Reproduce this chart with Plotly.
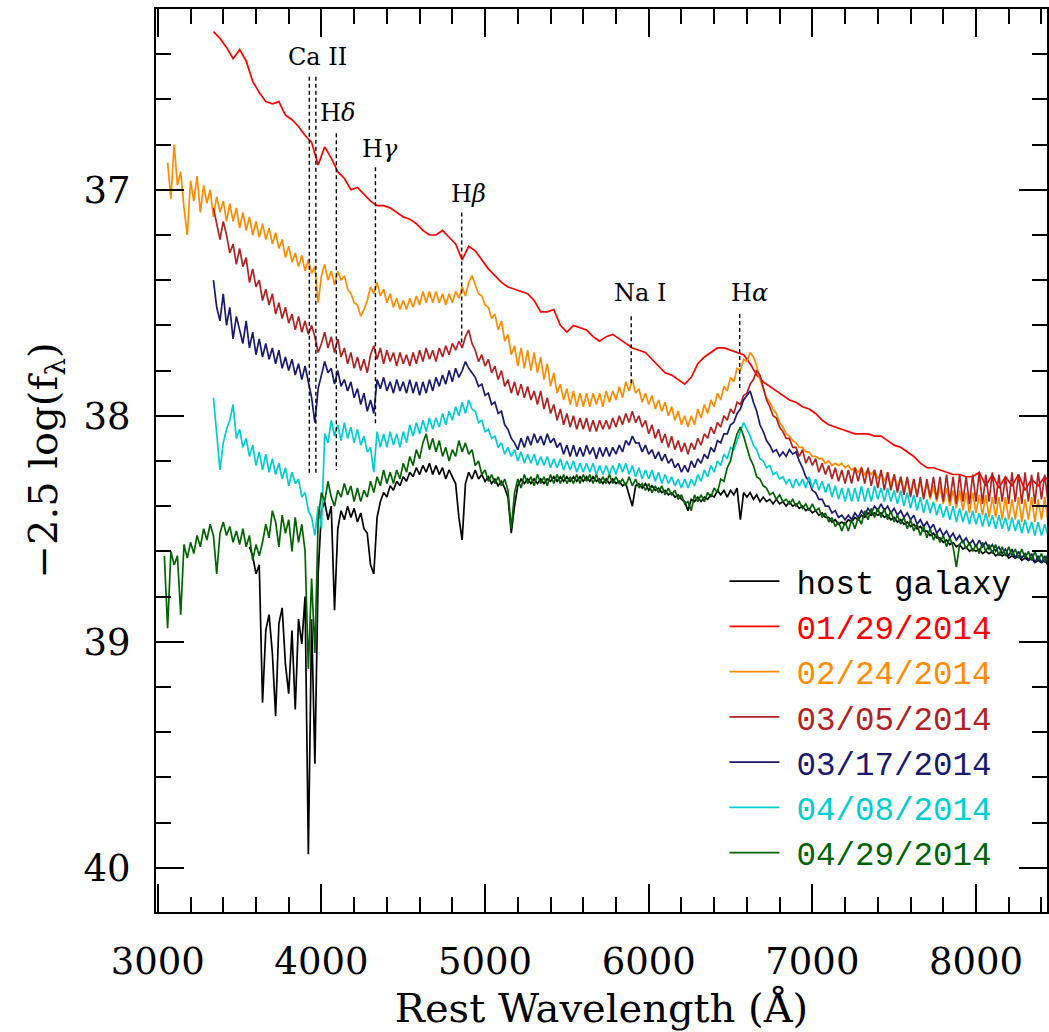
import numpy as np
import plotly.graph_objects as go

# ---------------- spectra: -2.5 log(f_lambda), digitised ----------------
# 01/29 epoch sampled every 40 A, the others every 20 A
host_start, host_step = 3560, 20
host_mag = [
    38.58, 38.62, 38.70, 38.66, 39.27, 38.95, 38.88, 39.05, 39.33, 38.92, 38.85, 39.10, 39.23, 38.95, 39.30, 38.90, 39.01, 38.80, 39.94, 38.90,
    39.54, 38.70, 38.42, 38.38, 38.46, 38.40, 38.86, 38.50, 38.42, 38.46, 38.40, 38.45, 38.41, 38.47, 38.43, 38.50, 38.52, 38.66, 38.70, 38.45,
    38.38, 38.34, 38.36, 38.31, 38.33, 38.29, 38.31, 38.27, 38.29, 38.25, 38.27, 38.23, 38.26, 38.22, 38.25, 38.21, 38.26, 38.22, 38.26, 38.23,
    38.28, 38.24, 38.27, 38.30, 38.45, 38.55, 38.30, 38.25, 38.28, 38.24, 38.28, 38.26, 38.29, 38.27, 38.30, 38.28, 38.31, 38.29, 38.32, 38.36,
    38.52, 38.40, 38.31, 38.28, 38.30, 38.28, 38.30, 38.28, 38.30, 38.28, 38.30, 38.28, 38.29, 38.27, 38.29, 38.27, 38.29, 38.27, 38.29, 38.27,
    38.29, 38.27, 38.29, 38.27, 38.29, 38.27, 38.29, 38.28, 38.30, 38.28, 38.30, 38.28, 38.30, 38.29, 38.31, 38.30, 38.35, 38.40, 38.31, 38.30,
    38.32, 38.30, 38.33, 38.31, 38.33, 38.32, 38.34, 38.33, 38.35, 38.34, 38.36, 38.35, 38.37, 38.38, 38.42, 38.37, 38.38, 38.36, 38.38, 38.36,
    38.37, 38.35, 38.36, 38.33, 38.35, 38.33, 38.36, 38.33, 38.35, 38.32, 38.46, 38.34, 38.36, 38.34, 38.37, 38.35, 38.38, 38.36, 38.38, 38.37,
    38.39, 38.37, 38.39, 38.38, 38.40, 38.38, 38.40, 38.39, 38.41, 38.40, 38.42, 38.41, 38.43, 38.42, 38.44, 38.43, 38.45, 38.45, 38.47, 38.46,
    38.48, 38.47, 38.48, 38.46, 38.47, 38.45, 38.46, 38.44, 38.45, 38.43, 38.44, 38.43, 38.44, 38.43, 38.45, 38.44, 38.46, 38.45, 38.47, 38.46,
    38.48, 38.47, 38.49, 38.48, 38.50, 38.49, 38.51, 38.51, 38.53, 38.52, 38.54, 38.54, 38.56, 38.55, 38.57, 38.56, 38.58, 38.57, 38.59, 38.58,
    38.60, 38.59, 38.60, 38.59, 38.61, 38.60, 38.61, 38.60, 38.62, 38.61, 38.62, 38.61, 38.63, 38.62, 38.63, 38.62, 38.64, 38.63, 38.64, 38.63,
    38.65, 38.64, 38.65, 38.64, 38.66, 38.65, 38.66,
]

red_start, red_step = 3340, 40
red_mag = [
    36.30, 36.33, 36.37, 36.42, 36.38, 36.43, 36.52, 36.57, 36.61, 36.62,
    36.61, 36.67, 36.69, 36.72, 36.76, 36.79, 36.89, 36.81, 36.86, 36.92,
    36.95, 37.00, 36.99, 37.02, 37.05, 37.07, 37.07, 37.08, 37.10, 37.12,
    37.13, 37.15, 37.18, 37.20, 37.20, 37.18, 37.21, 37.24, 37.31, 37.25,
    37.27, 37.31, 37.35, 37.38, 37.41, 37.43, 37.44, 37.45, 37.46, 37.49,
    37.54, 37.54, 37.53, 37.60, 37.63, 37.60, 37.61, 37.62, 37.65, 37.67,
    37.65, 37.64, 37.66, 37.68, 37.70, 37.71, 37.72, 37.75, 37.78, 37.81,
    37.82, 37.84, 37.86, 37.83, 37.77, 37.74, 37.72, 37.70, 37.70, 37.71,
    37.72, 37.73, 37.77, 37.82, 37.85, 37.87, 37.89, 37.91, 37.93, 37.94,
    37.96, 37.97, 37.99, 38.02, 38.04, 38.05, 38.06, 38.07, 38.08, 38.08,
    38.08, 38.09, 38.09, 38.11, 38.13, 38.14, 38.16, 38.18, 38.21, 38.23,
    38.23, 38.24, 38.25, 38.26, 38.26, 38.27, 38.27, 38.25, 38.31, 38.26,
    38.32, 38.27, 38.31, 38.26, 38.33, 38.28, 38.31, 38.27, 38.30,
]

orange_start, orange_step = 3060, 20
orange_mag = [
    36.88, 37.04, 36.80, 36.98, 36.92, 37.08, 37.20, 36.96, 37.05, 36.94, 37.10, 36.98, 37.06, 37.00, 37.12, 37.03, 37.10, 37.05, 37.14, 37.06,
    37.14, 37.08, 37.17, 37.10, 37.18, 37.12, 37.20, 37.14, 37.21, 37.15, 37.22, 37.17, 37.24, 37.19, 37.26, 37.22, 37.30, 37.25, 37.32, 37.28,
    37.34, 37.29, 37.36, 37.31, 37.37, 37.34, 37.50, 37.38, 37.33, 37.40, 37.36, 37.42, 37.36, 37.40, 37.38, 37.44, 37.46, 37.50, 37.51, 37.56,
    37.53, 37.49, 37.43, 37.46, 37.41, 37.47, 37.44, 37.50, 37.46, 37.52, 37.48, 37.53, 37.49, 37.53, 37.48, 37.52, 37.47, 37.51, 37.45, 37.50,
    37.45, 37.50, 37.45, 37.50, 37.46, 37.51, 37.46, 37.50, 37.45, 37.48, 37.43, 37.47, 37.41, 37.38, 37.42, 37.46, 37.47, 37.51, 37.52, 37.57,
    37.55, 37.62, 37.58, 37.67, 37.64, 37.73, 37.69, 37.78, 37.70, 37.79, 37.71, 37.80, 37.72, 37.81, 37.74, 37.84, 37.77, 37.87, 37.81, 37.90,
    37.86, 37.93, 37.88, 37.95, 37.89, 37.96, 37.90, 37.96, 37.90, 37.96, 37.90, 37.95, 37.90, 37.96, 37.89, 37.94, 37.89, 37.93, 37.87, 37.92,
    37.85, 37.89, 37.84, 37.90, 37.88, 37.94, 37.90, 37.95, 37.91, 37.97, 37.93, 37.98, 37.94, 38.00, 37.96, 38.02, 37.98, 38.04, 38.00, 38.05,
    38.00, 38.04, 37.97, 38.01, 37.95, 37.99, 37.93, 37.96, 37.90, 37.93, 37.87, 37.89, 37.83, 37.85, 37.79, 37.80, 37.75, 37.76, 37.72, 37.74,
    37.78, 37.84, 37.88, 37.92, 37.94, 37.97, 37.99, 38.03, 38.05, 38.08, 38.09, 38.11, 38.12, 38.14, 38.14, 38.16, 38.16, 38.18, 38.18, 38.19,
    38.19, 38.21, 38.20, 38.22, 38.21, 38.22, 38.21, 38.23, 38.22, 38.24, 38.23, 38.25, 38.23, 38.26, 38.24, 38.26, 38.24, 38.28, 38.25, 38.29,
    38.25, 38.31, 38.26, 38.32, 38.27, 38.33, 38.28, 38.34, 38.28, 38.35, 38.29, 38.36, 38.30, 38.37, 38.31, 38.38, 38.31, 38.39, 38.32, 38.40,
    38.33, 38.41, 38.33, 38.42, 38.34, 38.43, 38.34, 38.43, 38.35, 38.44, 38.35, 38.45, 38.36, 38.45, 38.36, 38.46, 38.36, 38.46, 38.37, 38.46,
    38.36, 38.47, 38.37, 38.46, 38.36, 38.47, 38.37, 38.46, 38.36, 38.47, 38.39,
]

brown_start, brown_step = 3340, 20
brown_mag = [
    37.08, 37.15, 37.22, 37.14, 37.20, 37.28, 37.24, 37.33, 37.26, 37.34, 37.30, 37.41, 37.35, 37.43, 37.40, 37.49, 37.44, 37.51, 37.46, 37.55,
    37.50, 37.57, 37.52, 37.59, 37.55, 37.62, 37.56, 37.63, 37.58, 37.64, 37.60, 37.65, 37.72, 37.68, 37.63, 37.70, 37.65, 37.72, 37.66, 37.74,
    37.70, 37.77, 37.72, 37.79, 37.74, 37.80, 37.75, 37.81, 37.73, 37.69, 37.75, 37.70, 37.77, 37.71, 37.76, 37.72, 37.78, 37.72, 37.77, 37.73,
    37.78, 37.72, 37.77, 37.71, 37.76, 37.70, 37.75, 37.71, 37.76, 37.70, 37.74, 37.69, 37.73, 37.68, 37.71, 37.67, 37.70, 37.65, 37.62, 37.68,
    37.71, 37.76, 37.73, 37.78, 37.75, 37.81, 37.78, 37.84, 37.80, 37.87, 37.84, 37.90, 37.85, 37.91, 37.86, 37.92, 37.87, 37.93, 37.89, 37.95,
    37.89, 37.97, 37.92, 37.99, 37.95, 38.02, 37.97, 38.04, 37.99, 38.05, 38.00, 38.06, 38.01, 38.06, 38.01, 38.07, 38.02, 38.07, 38.02, 38.06,
    38.02, 38.06, 38.01, 38.05, 38.00, 38.04, 37.99, 38.03, 37.98, 38.03, 38.00, 38.05, 38.02, 38.08, 38.04, 38.10, 38.06, 38.12, 38.08, 38.14,
    38.09, 38.15, 38.11, 38.16, 38.12, 38.17, 38.12, 38.15, 38.10, 38.13, 38.08, 38.10, 38.05, 38.08, 38.03, 38.05, 38.00, 38.02, 37.97, 37.99,
    37.94, 37.95, 37.91, 37.90, 37.86, 37.84, 37.80, 37.82, 37.88, 37.93, 37.96, 38.00, 38.01, 38.05, 38.07, 38.10, 38.10, 38.14, 38.14, 38.18,
    38.15, 38.21, 38.18, 38.22, 38.19, 38.25, 38.21, 38.26, 38.22, 38.28, 38.23, 38.29, 38.24, 38.30, 38.24, 38.30, 38.23, 38.29, 38.23, 38.30,
    38.23, 38.31, 38.24, 38.32, 38.24, 38.33, 38.25, 38.33, 38.26, 38.34, 38.27, 38.35, 38.27, 38.36, 38.28, 38.36, 38.27, 38.37, 38.28, 38.36,
    38.27, 38.37, 38.27, 38.38, 38.26, 38.38, 38.27, 38.39, 38.26, 38.38, 38.27, 38.39, 38.26, 38.38, 38.25, 38.39, 38.26, 38.38, 38.25, 38.39,
    38.26, 38.38, 38.27, 38.39, 38.25, 38.38, 38.26, 38.39, 38.25, 38.38, 38.26, 38.39, 38.25, 38.37, 38.26, 38.38, 38.30,
]

blue_start, blue_step = 3340, 20
blue_mag = [
    37.40, 37.52, 37.58, 37.46, 37.60, 37.52, 37.66, 37.56, 37.62, 37.68, 37.58, 37.70, 37.63, 37.73, 37.66, 37.74, 37.68, 37.75, 37.70, 37.77,
    37.71, 37.79, 37.74, 37.80, 37.75, 37.82, 37.77, 37.84, 37.78, 37.85, 37.92, 38.03, 37.88, 37.82, 37.76, 37.81, 37.79, 37.86, 37.80, 37.87,
    37.84, 37.89, 37.85, 37.92, 37.88, 37.95, 37.90, 37.98, 37.93, 37.99, 37.84, 37.88, 37.83, 37.89, 37.85, 37.90, 37.84, 37.89, 37.85, 37.90,
    37.84, 37.90, 37.85, 37.91, 37.85, 37.90, 37.84, 37.89, 37.83, 37.87, 37.82, 37.86, 37.80, 37.85, 37.79, 37.83, 37.80, 37.76, 37.79, 37.81,
    37.83, 37.87, 37.86, 37.91, 37.90, 37.95, 37.94, 37.99, 37.98, 38.04, 38.06, 38.10, 38.12, 38.15, 38.10, 38.14, 38.09, 38.13, 38.08, 38.12,
    38.09, 38.13, 38.08, 38.12, 38.10, 38.14, 38.12, 38.17, 38.13, 38.18, 38.13, 38.18, 38.14, 38.18, 38.13, 38.17, 38.14, 38.19, 38.14, 38.18,
    38.14, 38.18, 38.14, 38.17, 38.13, 38.16, 38.11, 38.13, 38.09, 38.12, 38.12, 38.16, 38.13, 38.17, 38.15, 38.19, 38.16, 38.20, 38.17, 38.21,
    38.19, 38.23, 38.21, 38.25, 38.22, 38.25, 38.20, 38.23, 38.19, 38.21, 38.17, 38.19, 38.14, 38.16, 38.11, 38.12, 38.08, 38.08, 38.04, 38.03,
    37.99, 37.97, 37.93, 37.91, 37.89, 37.94, 37.98, 38.04, 38.07, 38.11, 38.13, 38.16, 38.15, 38.18, 38.16, 38.18, 38.15, 38.17, 38.16, 38.20,
    38.23, 38.27, 38.29, 38.33, 38.34, 38.37, 38.37, 38.40, 38.40, 38.43, 38.42, 38.45, 38.44, 38.46, 38.44, 38.46, 38.43, 38.45, 38.42, 38.44,
    38.41, 38.43, 38.40, 38.42, 38.39, 38.42, 38.40, 38.43, 38.41, 38.44, 38.42, 38.45, 38.43, 38.46, 38.44, 38.48, 38.46, 38.49, 38.47, 38.50,
    38.48, 38.52, 38.50, 38.53, 38.51, 38.54, 38.52, 38.55, 38.53, 38.56, 38.54, 38.57, 38.55, 38.58, 38.55, 38.58, 38.56, 38.59, 38.57, 38.60,
    38.58, 38.61, 38.59, 38.62, 38.59, 38.63, 38.60, 38.63, 38.61, 38.64, 38.61, 38.65, 38.62, 38.65, 38.62, 38.66, 38.64,
]

cyan_start, cyan_step = 3340, 20
cyan_mag = [
    37.92, 38.10, 38.24, 38.12, 38.06, 38.02, 37.95, 38.10, 38.06, 38.14, 38.10, 38.18, 38.13, 38.22, 38.16, 38.24, 38.17, 38.25, 38.19, 38.26,
    38.21, 38.28, 38.23, 38.31, 38.25, 38.30, 38.28, 38.36, 38.34, 38.42, 38.45, 38.53, 38.40, 38.50, 38.08, 38.12, 38.02, 38.09, 38.04, 38.11,
    38.03, 38.10, 38.05, 38.12, 38.06, 38.13, 38.09, 38.16, 38.14, 38.25, 38.07, 38.14, 38.08, 38.14, 38.07, 38.13, 38.08, 38.14, 38.07, 38.12,
    38.04, 38.09, 38.03, 38.08, 38.02, 38.07, 38.01, 38.06, 38.01, 38.05, 37.99, 38.04, 37.98, 38.02, 37.96, 38.00, 37.94, 37.99, 37.93, 37.97,
    37.98, 38.03, 38.02, 38.07, 38.06, 38.10, 38.09, 38.14, 38.12, 38.17, 38.14, 38.18, 38.15, 38.20, 38.16, 38.21, 38.17, 38.21, 38.17, 38.22,
    38.18, 38.22, 38.18, 38.23, 38.19, 38.23, 38.19, 38.24, 38.20, 38.24, 38.20, 38.25, 38.21, 38.25, 38.21, 38.25, 38.21, 38.26, 38.22, 38.26,
    38.22, 38.26, 38.22, 38.26, 38.21, 38.25, 38.21, 38.26, 38.22, 38.27, 38.23, 38.28, 38.24, 38.28, 38.24, 38.29, 38.25, 38.30, 38.26, 38.30,
    38.27, 38.31, 38.28, 38.32, 38.28, 38.32, 38.28, 38.31, 38.26, 38.29, 38.24, 38.27, 38.22, 38.25, 38.20, 38.22, 38.17, 38.19, 38.14, 38.15,
    38.11, 38.07, 38.03, 38.06, 38.09, 38.13, 38.15, 38.19, 38.20, 38.23, 38.22, 38.26, 38.25, 38.28, 38.27, 38.30, 38.28, 38.32, 38.28, 38.31,
    38.28, 38.32, 38.27, 38.32, 38.28, 38.33, 38.29, 38.34, 38.30, 38.36, 38.31, 38.37, 38.32, 38.38, 38.32, 38.38, 38.32, 38.38, 38.31, 38.38,
    38.32, 38.38, 38.31, 38.37, 38.32, 38.38, 38.32, 38.38, 38.33, 38.39, 38.33, 38.40, 38.34, 38.41, 38.35, 38.42, 38.36, 38.43, 38.37, 38.43,
    38.38, 38.44, 38.39, 38.45, 38.40, 38.46, 38.40, 38.47, 38.41, 38.47, 38.42, 38.48, 38.42, 38.48, 38.43, 38.49, 38.43, 38.49, 38.44, 38.50,
    38.44, 38.50, 38.45, 38.51, 38.45, 38.51, 38.46, 38.52, 38.46, 38.52, 38.47, 38.53, 38.47, 38.53, 38.48, 38.53, 38.49,
]

green_start, green_step = 3040, 20
green_mag = [
    38.62, 38.94, 38.60, 38.66, 38.62, 38.88, 38.57, 38.63, 38.56, 38.61, 38.53, 38.58, 38.50, 38.55, 38.48, 38.53, 38.70, 38.52, 38.47, 38.53,
    38.49, 38.56, 38.51, 38.57, 38.50, 38.58, 38.53, 38.64, 38.57, 38.62, 38.56, 38.48, 38.54, 38.42, 38.47, 38.58, 38.44, 38.52, 38.46, 38.60,
    38.45, 38.56, 38.48, 38.60, 39.12, 38.72, 39.05, 38.46, 38.34, 38.38, 38.29, 38.36, 38.40, 38.33, 38.36, 38.30, 38.35, 38.31, 38.38, 38.32,
    38.38, 38.33, 38.36, 38.29, 38.34, 38.27, 38.31, 38.24, 38.30, 38.25, 38.30, 38.24, 38.28, 38.21, 38.25, 38.18, 38.22, 38.15, 38.19, 38.12,
    38.08, 38.15, 38.10, 38.16, 38.11, 38.18, 38.14, 38.20, 38.15, 38.18, 38.11, 38.16, 38.12, 38.17, 38.15, 38.22, 38.20, 38.26, 38.24, 38.29,
    38.26, 38.30, 38.27, 38.31, 38.28, 38.33, 38.50, 38.34, 38.28, 38.32, 38.26, 38.30, 38.27, 38.31, 38.26, 38.30, 38.27, 38.31, 38.26, 38.30,
    38.26, 38.30, 38.26, 38.30, 38.27, 38.30, 38.26, 38.30, 38.26, 38.29, 38.26, 38.30, 38.26, 38.30, 38.27, 38.30, 38.26, 38.30, 38.27, 38.30,
    38.28, 38.31, 38.27, 38.31, 38.28, 38.32, 38.30, 38.33, 38.30, 38.34, 38.31, 38.34, 38.31, 38.35, 38.32, 38.35, 38.33, 38.37, 38.35, 38.39,
    38.38, 38.42, 38.35, 38.38, 38.35, 38.38, 38.34, 38.36, 38.32, 38.34, 38.28, 38.29, 38.23, 38.20, 38.13, 38.08, 38.05, 38.09, 38.14, 38.19,
    38.22, 38.27, 38.28, 38.31, 38.32, 38.35, 38.34, 38.37, 38.35, 38.38, 38.37, 38.39, 38.37, 38.40, 38.38, 38.41, 38.39, 38.42, 38.39, 38.42,
    38.41, 38.45, 38.43, 38.47, 38.45, 38.49, 38.47, 38.51, 38.47, 38.51, 38.46, 38.50, 38.45, 38.48, 38.42, 38.46, 38.41, 38.45, 38.41, 38.45,
    38.41, 38.46, 38.42, 38.47, 38.44, 38.48, 38.45, 38.50, 38.46, 38.51, 38.48, 38.53, 38.49, 38.54, 38.50, 38.55, 38.52, 38.56, 38.53, 38.58,
    38.54, 38.58, 38.67, 38.57, 38.55, 38.59, 38.56, 38.60, 38.57, 38.61, 38.56, 38.60, 38.57, 38.61, 38.57, 38.62, 38.58, 38.62, 38.58, 38.62,
    38.59, 38.63, 38.59, 38.63, 38.60, 38.64, 38.60, 38.64, 38.61, 38.65, 38.61, 38.65, 38.63,
]

series_names = ["host galaxy", "01/29/2014", "02/24/2014", "03/05/2014",
                "03/17/2014", "04/08/2014", "04/29/2014"]
series_starts = [host_start, red_start, orange_start, brown_start,
                 blue_start, cyan_start, green_start]
series_steps = [host_step, red_step, orange_step, brown_step,
                blue_step, cyan_step, green_step]
series_mags = [host_mag, red_mag, orange_mag, brown_mag,
               blue_mag, cyan_mag, green_mag]
series_colors = ["#000000", "#ff0000", "#ff8c00", "#b22222",
                 "#191970", "#00ced1", "#006400"]

# ---------------- line identifications ----------------
feature_wl = [3926, 3966, 4091, 4330, 4857, 5893, 6556]
feature_top = [36.50, 36.50, 36.75, 36.90, 37.10, 37.56, 37.55]
feature_bottom = [38.26, 38.26, 38.24, 38.04, 37.68, 37.86, 37.89]

label_text = ["Ca II", "H<i>δ</i>", "H<i>γ</i>", "H<i>β</i>", "Na I", "H<i>α</i>"]
label_wl = [3977, 4099, 4355, 4898, 5946, 6617]
label_mag = [36.413, 36.661, 36.820, 37.019, 37.457, 37.457]

SERIF = "DejaVu Serif"
MONO = "Liberation Mono"

fig = go.Figure()

for name, start, step, mags, col in zip(series_names, series_starts, series_steps,
                                         series_mags, series_colors):
    wl = start + step * np.arange(len(mags))
    fig.add_trace(go.Scatter(
        x=wl, y=mags, mode="lines",
        line=dict(color=col, width=1.7),
        name=(f'<span style="font-size:20px">\u00a0</span>'
              f'<span style="color:{col}">{name}</span>'),
        showlegend=True,
    ))

for w, t, b in zip(feature_wl, feature_top, feature_bottom):
    fig.add_trace(go.Scatter(
        x=[w, w], y=[t, b], mode="lines",
        line=dict(color="black", width=1.4, dash="4px,3px"),
        showlegend=False, hoverinfo="skip",
    ))

for txt, w, m in zip(label_text, label_wl, label_mag):
    fig.add_annotation(x=w, y=m, text=txt, showarrow=False,
                       font=dict(family=SERIF, size=24, color="black"),
                       xanchor="center", yanchor="middle")

axis_common = dict(
    showline=True, linecolor="black", linewidth=2, mirror="ticks",
    ticks="inside", ticklen=28, tickwidth=1.6, tickcolor="black",
    showgrid=False, zeroline=False,
    tickfont=dict(family=SERIF, size=37, color="black"),
)

fig.update_xaxes(
    range=[2989, 8434], dtick=1000, tick0=0,
    minor=dict(dtick=200, ticks="inside", ticklen=15, tickwidth=1.6, tickcolor="black", showgrid=False),
    title=dict(text="Rest Wavelength (Å)", font=dict(family=SERIF, size=40, color="black"), standoff=12),
    ticklabelstandoff=16,
    **axis_common,
)
fig.update_yaxes(
    range=[40.196, 36.20], dtick=1, tick0=0,
    minor=dict(dtick=0.2, ticks="inside", ticklen=15, tickwidth=1.6, tickcolor="black", showgrid=False),
    title=dict(text="−2.5 log(f<sub>λ</sub>)", font=dict(family=SERIF, size=40, color="black"), standoff=14),
    ticklabelstandoff=16,
    **axis_common,
)

fig.update_layout(
    width=1049, height=1032,
    margin=dict(l=156, r=0, t=9, b=120),
    paper_bgcolor="white", plot_bgcolor="white",
    showlegend=True,
    legend=dict(
        x=0.638, y=0.397, xanchor="left", yanchor="top",
        bgcolor="rgba(0,0,0,0)", borderwidth=0,
        font=dict(family=MONO, size=32.5, color="black"),
        itemwidth=50, tracegroupgap=0,
    ),
)

fig.write_html("out.html")
